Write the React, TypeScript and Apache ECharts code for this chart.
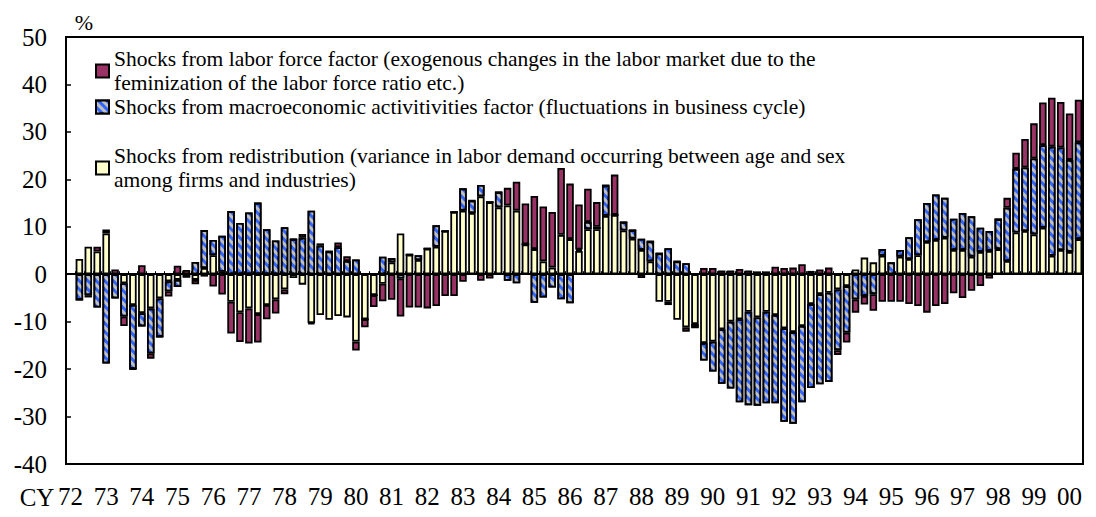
import React, { useEffect, useRef } from 'react';
import * as echarts from 'echarts';

const FONT = '"Liberation Serif", "Times New Roman", Times, serif';

// Year tick labels (each year has 4 quarters; data run 1972Q1 - 2000Q2)
const yearLabels = ['72', '73', '74', '75', '76', '77', '78', '79', '80', '81', '82', '83', '84', '85', '86', '87', '88', '89', '90', '91', '92', '93', '94', '95', '96', '97', '98', '99', '00'];
const quarterCount = 114;
const quarters: string[] = [];
for (let i = 0; i < quarterCount; i++) {
  quarters.push(yearLabels[Math.floor(i / 4)] + 'Q' + ((i % 4) + 1));
}

const nameLabor = 'Shocks from labor force factor';
const nameMacro = 'Shocks from macroeconomic activitivities factor';
const nameRedis = 'Shocks from redistribution';

const legendLabor = 'Shocks from labor force factor (exogenous changes in the labor market due to the\nfeminization of the labor force ratio etc.)';
const legendMacro = 'Shocks from macroeconomic activitivities factor (fluctuations in business cycle)';
const legendRedis = 'Shocks from redistribution (variance in labor demand occurring between age and sex\namong firms and industries)';

// Shocks from redistribution (%), quarterly
const redistribution = [
  0, 3.2, 5.8, 4.8, 8.6, 0, -1.9, -6.5, -8.2, -7.2,
  -5.1, -1.5, -1.2, 0, -1.2, 1.3, 4.0, 0.5, -5.8, -8.0,
  -7.2, -8.4, -6.5, -5.3, -3.2, -0.8, -2.2, -10.3, -8.6, -9.6,
  -8.8, -9.1, -14.2, -9.5, -4.4, -2.0, 2.5, 8.6, 4.1, 3.0,
  5.4, 5.8, 9.1, 13.1, 13.4, 12.9, 16.4, 15.2, 14.1, 14.5,
  13.4, 6.3, 5.3, 2.7, 1.4, 8.3, 7.4, 4.9, 9.5, 9.5,
  12.3, 12.5, 9.2, 7.5, 5.1, 2.7, -5.8, -5.8, -9.6, -11.2,
  -10.5, -14.5, -14.2, -11.6, -10.0, -9.5, -7.9, -9.1, -7.9, -8.6,
  -11.4, -12.2, -10.9, -6.3, -4.2, -3.9, -3.2, -2.5, 1.0, 3.5,
  2.5, 3.9, 0, 3.7, 3.2, 4.0, 6.8, 7.2, 7.7, 5.1,
  5.1, 3.7, 4.7, 4.9, 5.3, 2.8, 8.8, 9.1, 8.4, 9.8,
  3.9, 5.1, 4.7, 7.4,
];

// Shocks from macroeconomic activities factor (%), quarterly
const macro = [
  0, -5.4, -4.4, -7.0, -18.8, -5.1, -7.0, -13.5, -2.8, -9.5,
  -8.1, -2.1, -1.5, -0.7, 2.6, 8.0, 3.2, 7.6, 13.3, 10.8,
  13.0, 15.1, 9.5, 7.1, 9.9, 7.4, 7.7, 13.4, 6.0, 4.8,
  5.7, 2.8, 3.1, 0, 0, 3.7, 0.9, -0.9, 0, 1.0,
  0, 4.5, 0, 0, 4.7, 2.6, 2.4, 0, 3.2, -1.4,
  -1.9, 0, -6.0, -4.9, -2.8, -5.3, -6.1, 0.3, 1.5, 0.5,
  6.4, 0, 1.8, 1.8, 2.4, 4.2, 4.4, 5.5, 2.7, 2.3,
  -0.7, -3.7, -6.3, -11.5, -14.1, -17.5, -19.7, -18.6, -19.3, -18.6,
  -19.7, -19.3, -16.1, -17.7, -19.0, -18.8, -12.8, -9.8, -5.3, -4.6,
  -4.2, 1.4, 2.5, 1.4, 4.6, 7.6, 8.2, 9.6, 8.4, 6.6,
  7.8, 8.5, 5.1, 4.2, 6.3, 11.2, 13.4, 13.4, 16.0, 17.4,
  23.0, 21.6, 19.4, 20.4,
];

// Shocks from labor force factor (%), quarterly
const laborForce = [
  0, 0, -0.5, 1.0, 0.8, 1.0, -2.0, 0, 1.9, -1.1,
  0, -1.1, 1.8, 0.9, -0.9, -0.5, -2.6, -4.3, -6.7, -6.3,
  -7.4, -6.0, -3.0, -3.0, -1.0, 0, 0.8, -0.2, 0.5, 0,
  1.0, 1.0, -1.9, -1.7, -2.5, -3.7, -5.4, -8.0, -7.0, -7.0,
  -7.2, -6.7, -4.6, -4.6, -1.6, 0, -1.4, -0.9, 0, 3.7,
  6.1, 8.6, 11.2, 11.6, 11.7, 14.1, 11.7, 9.5, 7.0, 5.2,
  0, 8.5, 0, 0, -0.8, 0, 0, -0.7, 0, -0.9,
  0, 1.3, 1.3, 0.8, 0.8, 1.1, 0.8, 0.6, 0.6, 1.6,
  1.3, 1.4, 2.1, 0.7, 1.0, 1.4, -1.0, -2.1, -2.8, -1.8,
  -3.5, -5.8, -5.8, -5.8, -6.3, -6.7, -8.1, -6.7, -6.3, -4.0,
  -5.0, -3.5, -2.5, -0.9, 0, 2.1, 3.4, 6.0, 7.4, 9.0,
  10.3, 9.6, 9.8, 9.0,
];

const toData = (arr: number[]) => arr.map((v, i) => (i === 0 ? '-' : v));

export default function App() {
  const ref = useRef<HTMLDivElement>(null);

  useEffect(() => {
    if (!ref.current) return;
    const chart = echarts.init(ref.current, undefined, { renderer: 'svg' });

    const barBorder = { borderColor: '#000', borderWidth: 1.8 };
    const legendBase = {
      orient: 'vertical',
      left: 95,
      padding: 0,
      itemWidth: 13,
      itemHeight: 13,
      itemGap: 0,
      icon: 'rect',
      selectedMode: false,
    };
    const legendText = { fontFamily: FONT, fontSize: 21.5, color: '#000', lineHeight: 24 };

    const option: any = {
      animation: false,
      grid: {
        left: 66,
        right: 13,
        top: 37,
        bottom: 53,
        show: true,
        borderColor: '#000',
        borderWidth: 2,
        backgroundColor: 'transparent',
      },
      legend: [
        {
          ...legendBase,
          top: 35,
          data: [nameLabor],
          formatter: () => legendLabor,
          textStyle: { ...legendText, padding: [24, 0, 0, 0] },
        },
        {
          ...legendBase,
          top: 95,
          data: [nameMacro],
          formatter: () => legendMacro,
          textStyle: { ...legendText },
        },
        {
          ...legendBase,
          top: 132,
          data: [nameRedis],
          formatter: () => legendRedis,
          textStyle: { ...legendText, padding: [24, 0, 0, 0] },
        },
      ],
      xAxis: [
        {
          type: 'category',
          data: quarters,
          position: 'bottom',
          axisLine: { show: false, onZero: false },
          axisTick: { show: false },
          splitLine: { show: false },
          axisLabel: {
            interval: (i: number) => i % 4 === 0,
            formatter: (_v: string, i: number) => yearLabels[Math.floor(i / 4)],
            fontFamily: FONT,
            fontSize: 25,
            color: '#000',
            margin: 20,
          },
        },
        {
          type: 'category',
          data: quarters,
          position: 'top',
          axisLine: { show: true, onZero: true, lineStyle: { color: '#000', width: 2 } },
          axisTick: { show: true, inside: false, length: 3, interval: 0, lineStyle: { color: '#000', width: 1 } },
          axisLabel: { show: false },
          splitLine: { show: false },
        },
      ],
      yAxis: {
        type: 'value',
        min: -40,
        max: 50,
        interval: 10,
        axisLine: { show: true, lineStyle: { color: '#000', width: 2 } },
        axisTick: { show: true, inside: true, length: 5, lineStyle: { color: '#000', width: 1.5 } },
        axisLabel: { fontFamily: FONT, fontSize: 25, color: '#000', margin: 19 },
        splitLine: { show: false },
      },
      graphic: [
        {
          type: 'text',
          x: 84,
          y: 22,
          style: { text: '%', fontFamily: FONT, fontSize: 22, fill: '#000', align: 'center', verticalAlign: 'middle' },
        },
        {
          type: 'text',
          x: 37,
          y: 497,
          style: { text: 'CY', fontFamily: FONT, fontSize: 25, fill: '#000', align: 'center', verticalAlign: 'middle' },
        },
      ],
      series: [
        {
          name: nameRedis,
          type: 'bar',
          stack: 'total',
          barCategoryGap: '16%',
          data: toData(redistribution),
          itemStyle: { color: '#FFFFCC', ...barBorder },
        },
        {
          name: nameMacro,
          type: 'bar',
          stack: 'total',
          barCategoryGap: '16%',
          data: toData(macro),
          itemStyle: {
            color: '#3366FF',
            ...barBorder,
            decal: {
              symbol: 'rect',
              symbolSize: 1,
              color: '#C0C0C0',
              dashArrayX: [1, 0],
              dashArrayY: [3, 3],
              rotation: Math.PI / 4,
            },
          },
        },
        {
          name: nameLabor,
          type: 'bar',
          stack: 'total',
          barCategoryGap: '16%',
          data: toData(laborForce),
          itemStyle: { color: '#993366', ...barBorder },
        },
      ],
    };

    chart.setOption(option);
    return () => chart.dispose();
  }, []);

  return <div ref={ref} style={{ position: 'fixed', left: 0, top: 0, width: 1096, height: 517, background: '#fff' }} />;
}
